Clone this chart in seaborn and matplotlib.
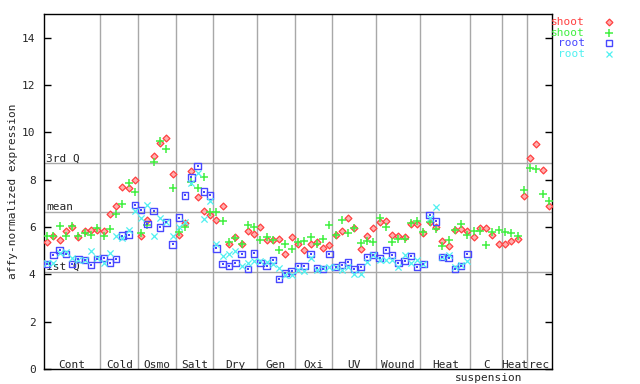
import numpy as np
import pandas as pd
import seaborn as sns
import matplotlib.pyplot as plt
from matplotlib.transforms import blended_transform_factory

# groups of arrays along the x axis
group_names = ["Cont", "Cold", "Osmo", "Salt", "Dry", "Gen", "Oxi", "UV",
               "Wound", "Heat", "C\nsuspension", "Heat", "rec"]
group_sizes = [9, 6, 6, 6, 7, 6, 6, 7, 7, 8, 5, 4, 4]

# expression values, one per array
shoot_a = [5.35, 5.64, 5.47, 5.81, 6.0, 5.57, 5.82, 5.88, 5.88,
           5.82, 6.54, 6.88, 7.68, 7.64, 8.0,
           5.6, 6.28, 8.98, 9.53, 9.75, 8.23,
           5.65, 6.15, 8.35, 7.26, 6.67, 6.5,
           6.29, 6.88, 5.3, 5.57, 5.27, 5.84, 5.72,
           5.98, 5.47, 5.47, 5.51, 4.88, 5.56,
           5.3, 5.01, 5.3, 5.35, 5.13, 5.26,
           5.65, 5.82, 6.37, 5.95, 5.06, 5.61, 5.95,
           6.2, 6.24, 5.65, 5.61, 5.57, 6.12, 6.12,
           5.74, 6.2, 5.99, 5.4, 5.19, 5.86, 5.9, 5.82,
           5.57, 5.95, 5.95, 5.65, 5.3,
           5.3, 5.4, 5.49, 7.3,
           8.9, 9.5, 8.4, 6.9]
shoot_b = [5.6, 5.6, 6.03, 5.6, 6.03, 5.6, 5.73, 5.68, 5.94,
           5.64, 5.9, 6.54, 6.96, 7.85, 7.5,
           5.73, 6.1, 8.73, 9.62, 9.28, 7.64,
           5.78, 6.0, 7.9, 7.64, 8.1, 6.62,
           6.62, 6.24, 5.36, 5.53, 5.3, 6.1, 6.02,
           5.43, 5.56, 5.43, 5.01, 5.3, 5.09,
           5.35, 5.39, 5.56, 5.3, 5.51, 6.1,
           5.68, 6.29, 5.74, 5.95, 5.32, 5.4, 5.36,
           6.37, 5.99, 5.36, 5.49, 5.49, 6.16, 6.24,
           5.78, 6.2, 5.9, 5.19, 5.44, 5.86, 6.12, 5.65,
           5.82, 5.82, 5.23, 5.78, 5.86,
           5.78, 5.74, 5.61, 7.55,
           8.48, 8.44, 7.38, 7.1]
nan = np.nan
root_a = [4.43, 4.81, 5.02, 4.85, 4.43, 4.64, 4.6, 4.39, 4.64,
          4.68, 4.5, 4.64, 5.64, 5.68, 6.92,
          6.71, 6.12, 6.67, 5.98, 6.2, 5.27,
          6.4, 7.34, 8.1, 8.57, 7.5, 7.34,
          5.1, 4.43, 4.35, 4.47, 4.85, 4.22, 4.89,
          4.47, 4.35, 4.6, 3.8, 4.05, 4.14,
          4.35, 4.35, 4.85, 4.26, 4.22, 4.85,
          4.3, 4.39, 4.52, 4.22, 4.3, 4.73, 4.81,
          4.68, 5.02, 4.81, 4.47, 4.56, 4.77, 4.3,
          4.43, 6.5, 6.24, 4.73, 4.68, 4.22, 4.35, 4.85,
          nan, nan, nan, nan, nan,
          nan, nan, nan, nan,
          nan, nan, nan, nan]
root_b = [4.5, 4.5, 4.9, 4.94, 4.7, 4.6, 4.6, 4.98, 4.7,
          4.47, 4.9, 5.64, 5.53, 5.86, 6.67,
          6.4, 6.92, 5.64, 6.37, 6.2, 5.6,
          6.0, 6.2, 7.85, 8.3, 6.33, 7.1,
          5.3, 4.77, 4.85, 4.98, 4.35, 4.47, 4.56,
          4.56, 4.52, 4.43, 4.26, 3.97, 3.97,
          4.18, 4.14, 4.7, 4.2, 4.25, 4.3,
          4.3, 4.18, 4.3, 4.01, 4.01, 4.52, 4.81,
          4.6, 4.6, 4.6, 4.3, 4.81, 4.47, 4.6,
          4.43, 6.37, 6.84, 4.73, 4.81, 4.3, 4.4, 4.56,
          nan, nan, nan, nan, nan,
          nan, nan, nan, nan,
          nan, nan, nan, nan]

quartile_names = ["1st Q", "mean", "3rd Q"]
quartile_values = [4.09, 6.62, 8.69]

series_names = ["shoot", "shoot", "root", "root"]

n = len(shoot_a)
df = pd.DataFrame({
    "pos": np.arange(n) + 0.5,
    "s0": shoot_a, "s1": shoot_b, "s2": root_a, "s3": root_b,
})

colors = ["#ff4040", "#40f040", "#4848ff", "#50f0f0"]
styles = [
    dict(marker="D", s=12, facecolor="#ffb0b0", edgecolor=colors[0], linewidth=0.9),
    dict(marker="+", s=30, color=colors[1], linewidth=1.1),
    dict(marker="s", s=22, facecolor="none", edgecolor=colors[2], linewidth=1.0),
    dict(marker="x", s=20, color=colors[3], linewidth=0.9),
]
mono = "DejaVu Sans Mono"

sns.set_style("white")
plt.rcParams["font.family"] = [mono]

fig = plt.figure(figsize=(6.4, 3.84), dpi=100)
ax = fig.add_axes([44 / 640, 1 - 369 / 384, 508 / 640, 355 / 384])

# quartile reference lines and group dividers
for name, val in zip(quartile_names, quartile_values):
    ax.axhline(val, color="#a8a8a8", lw=1, zorder=1)
    ax.text(0.3, val, name, fontsize=8, va="bottom", ha="left", zorder=3)
bounds = np.cumsum(group_sizes)
for b in bounds[:-1]:
    ax.axvline(b, color="#a8a8a8", lw=1, zorder=1)

for i, st in enumerate(styles):
    sns.scatterplot(data=df, x="pos", y=f"s{i}", ax=ax, legend=False, zorder=4, **st)
# dot inside the root squares
sns.scatterplot(data=df, x="pos", y="s2", ax=ax, legend=False, marker="s", s=1.5,
                color=colors[2], linewidth=0, zorder=4)

ax.set_xlim(0, bounds[-1])
ax.set_ylim(0, 15)
ax.set_xticks([])
ax.set_yticks(np.arange(0, 15, 2))
ax.tick_params(axis="y", direction="in", length=5, width=1, pad=6,
               labelsize=8, left=True, right=True, color="black")
for sp in ax.spines.values():
    sp.set_color("black")
    sp.set_linewidth(1)
ax.set_xlabel("")
ax.set_ylabel("affy-normalized expression", fontsize=8, labelpad=3)

# group labels along the bottom
trans = blended_transform_factory(ax.transData, ax.transAxes)
starts = np.concatenate([[0], bounds[:-1]])
for name, a, b in zip(group_names, starts, bounds):
    parts = name.split("\n")
    ax.text((a + b) / 2, 0.004, parts[0], fontsize=8, ha="center",
            va="baseline", transform=trans, clip_on=False)
    if len(parts) > 1:
        ax.text((a + b) / 2 + 0.4, -0.033, parts[1], fontsize=8, ha="center",
                va="baseline", transform=trans, clip_on=False)

# legend on the right
for k, (name, col, st) in enumerate(zip(series_names, colors, styles)):
    yy = 1 - (22 + 10.7 * k) / 384
    fig.text(585 / 640, yy, name, color=col, fontsize=8, ha="right", va="center")
    fig.add_artist(plt.Line2D([609 / 640], [yy], transform=fig.transFigure,
                              marker=st["marker"], markersize=np.sqrt(st["s"]),
                              markerfacecolor=st.get("facecolor", "none"),
                              markeredgecolor=col,
                              markeredgewidth=st["linewidth"], linestyle=""))

fig.savefig("out.png", dpi=100)
